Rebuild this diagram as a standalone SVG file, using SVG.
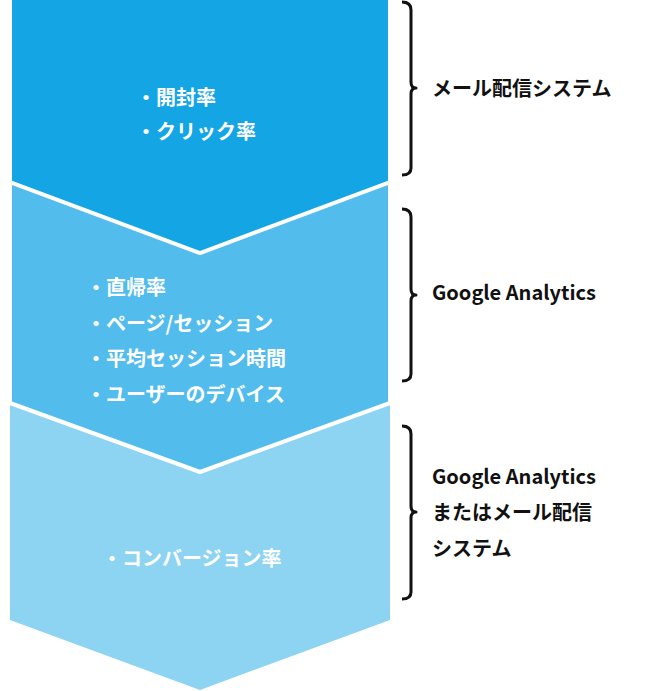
<svg xmlns="http://www.w3.org/2000/svg" width="670" height="691" viewBox="0 0 670 691">
<style>
.s{stroke:#fff;stroke-width:4;stroke-linejoin:miter}
.t{font-family:"Noto Sans CJK JP","Noto Sans",sans-serif;font-weight:bold;font-size:20px;fill:#fff}
.l{font-family:"Noto Sans CJK JP","Noto Sans",sans-serif;font-weight:bold;font-size:20px;fill:#111}
.b{fill:none;stroke:#111;stroke-width:3;stroke-linejoin:round}
</style>
<g id="step3"><polygon points="10,400 390,400 390,620 200,690 10,620" fill="#8dd3f2"/>
<text class="t" x="102" y="566">・コンバージョン率</text></g>
<g id="step2"><polygon class="s" points="10,180 390,180 390,403 200,472 10,403" fill="#52bced"/>
<text class="t" x="86" y="295">・直帰率</text><text class="t" x="86" y="331">・ページ/セッション</text><text class="t" x="86" y="366">・平均セッション時間</text><text class="t" x="86" y="402">・ユーザーのデバイス</text></g>
<g id="step1"><polygon class="s" points="10,-5 390,-5 390,182 200,253 10,182" fill="#14a5e5"/>
<text class="t" x="136" y="105">・開封率</text><text class="t" x="136" y="139">・クリック率</text></g>
<g id="connectors">
<path class="b" d="M402,2 Q411,2 411,10 L411,82 Q411,88 416,88 Q411,88 411,94 L411,168 Q411,175 402,175"/>
<path class="b" d="M402,209 Q411,209 411,217 L411,289 Q411,295 416,295 Q411,295 411,301 L411,374 Q411,381 402,381"/>
<path class="b" d="M402,426 Q411,426 411,434 L411,506 Q411,512 416,512 Q411,512 411,518 L411,592 Q411,599 402,599"/>
</g>
<g id="label1"><text class="l" x="432" y="96">メール配信システム</text></g>
<g id="label2"><text class="l" x="432" y="300">Google Analytics</text></g>
<g id="label3"><text class="l" x="432" y="484">Google Analytics</text><text class="l" x="432" y="520">またはメール配信</text><text class="l" x="432" y="556">システム</text></g>
</svg>
